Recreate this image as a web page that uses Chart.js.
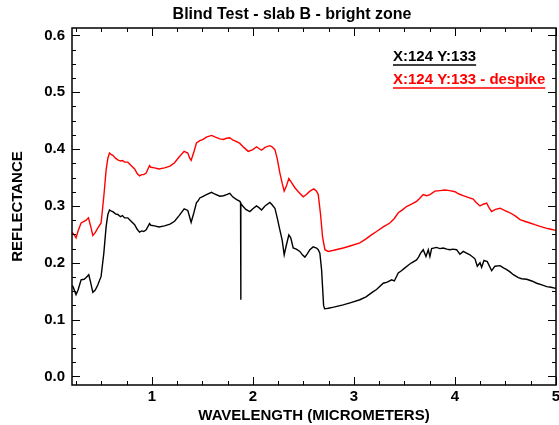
<!DOCTYPE html>
<html><head><meta charset="utf-8">
<script src="https://cdn.jsdelivr.net/npm/chart.js@4/dist/chart.umd.min.js"></script>
<style>html,body{margin:0;padding:0;background:#fff;}</style>
</head><body>
<canvas id="c" width="559" height="425"></canvas>
<script>
const chartTitle = 'Blind Test - slab B - bright zone';
const xAxisTitle = 'WAVELENGTH (MICROMETERS)';
const yAxisTitle = 'REFLECTANCE';
const seriesNames = ['X:124 Y:133', 'X:124 Y:133 - despike'];
const seriesColors = ['#000000', '#ff0000'];
const xTickValues = [1, 2, 3, 4, 5];
const yTickValues = [0, 0.1, 0.2, 0.3, 0.4, 0.5, 0.6];

const blackWave = [0.21,0.22,0.25,0.27,0.30,0.33,0.35,0.376,0.395,0.416,0.44,0.465,0.498,0.525,0.548,0.565,0.581,0.60,0.614,0.64,0.663,0.69,0.71,0.73,0.762,0.79,0.83,0.855,0.878,0.90,0.92,0.944,0.977,0.99,1.027,1.07,1.126,1.18,1.225,1.27,1.32,1.356,1.375,1.389,1.416,1.442,1.455,1.475,1.508,1.54,1.591,1.62,1.673,1.71,1.74,1.772,1.80,1.84,1.871,1.878,1.880,1.882,1.90,1.93,1.970,2.00,2.036,2.06,2.086,2.12,2.168,2.19,2.218,2.24,2.267,2.29,2.31,2.33,2.356,2.375,2.399,2.43,2.465,2.49,2.515,2.54,2.564,2.597,2.63,2.647,2.663,2.68,2.70,2.71,2.746,2.80,2.894,2.97,3.059,3.12,3.18,3.224,
  3.29,3.33,3.373,3.40,3.439,3.47,3.505,3.54,3.571,3.60,3.62,3.64,3.66,3.686,3.713,3.736,3.752,3.769,3.818,3.85,3.884,3.92,3.95,3.98,4.016,4.049,4.082,4.115,4.148,4.198,4.221,4.248,4.264,4.287,4.32,4.363,4.396,4.446,4.48,4.512,4.545,4.578,4.627,4.66,4.71,4.76,4.809,4.86,4.908,4.95,5.0];
const blackRefl = [0.160,0.158,0.144,0.152,0.170,0.171,0.174,0.179,0.165,0.148,0.152,0.161,0.176,0.217,0.264,0.285,0.293,0.291,0.290,0.286,0.285,0.281,0.283,0.279,0.279,0.274,0.267,0.259,0.254,0.256,0.255,0.258,0.269,0.266,0.265,0.263,0.265,0.268,0.273,0.283,0.295,0.292,0.280,0.271,0.288,0.306,0.308,0.314,0.317,0.320,0.324,0.321,0.317,0.318,0.320,0.322,0.316,0.311,0.308,0.306,0.135,0.304,0.300,0.294,0.290,0.295,0.300,0.297,0.293,0.300,0.306,0.302,0.296,0.280,0.258,0.240,0.214,0.230,0.249,0.244,0.226,0.224,0.220,0.214,0.210,0.216,0.223,0.228,0.226,0.223,0.217,0.188,0.125,0.119,0.120,0.122,0.126,0.130,0.135,0.140,0.148,0.153,
  0.164,0.166,0.170,0.168,0.182,0.186,0.191,0.196,0.200,0.203,0.205,0.210,0.217,0.223,0.211,0.223,0.211,0.225,0.227,0.225,0.226,0.224,0.223,0.224,0.223,0.215,0.220,0.217,0.214,0.207,0.194,0.200,0.192,0.204,0.202,0.186,0.194,0.195,0.191,0.188,0.184,0.179,0.174,0.172,0.171,0.168,0.164,0.161,0.158,0.157,0.155];

const redWave = [0.21,0.22,0.25,0.27,0.30,0.33,0.35,0.373,0.395,0.416,0.44,0.465,0.498,0.525,0.548,0.565,0.581,0.60,0.614,0.64,0.663,0.69,0.71,0.73,0.762,0.79,0.83,0.855,0.878,0.90,0.92,0.944,0.977,0.99,1.027,1.07,1.126,1.18,1.225,1.27,1.32,1.356,1.375,1.389,1.416,1.442,1.475,1.508,1.54,1.591,1.63,1.673,1.706,1.74,1.772,1.80,1.84,1.871,1.91,1.954,2.00,2.036,2.06,2.086,2.12,2.168,2.19,2.218,2.24,2.267,2.29,2.31,2.33,2.356,2.38,2.416,2.45,2.498,2.53,2.564,2.604,2.63,2.647,2.67,2.69,2.713,2.746,2.80,2.894,2.97,3.059,3.12,3.18,3.224,3.29,3.356,3.40,3.439,3.48,3.521,3.57,3.62,3.65,3.686,3.72,3.752,3.802,3.851,3.90,3.95,4.00,4.04,4.082,4.13,4.181,4.21,4.248,4.28,4.314,4.34,4.363,4.40,4.446,4.49,4.545,4.60,4.644,4.69,4.743,4.79,4.842,4.90,4.95,5.0];
const redRefl = [0.253,0.252,0.244,0.256,0.270,0.273,0.275,0.279,0.264,0.248,0.253,0.261,0.270,0.317,0.364,0.384,0.393,0.390,0.389,0.384,0.381,0.379,0.380,0.377,0.377,0.372,0.365,0.357,0.353,0.355,0.355,0.358,0.371,0.368,0.367,0.365,0.367,0.370,0.376,0.386,0.396,0.393,0.384,0.380,0.395,0.411,0.415,0.417,0.421,0.424,0.421,0.418,0.417,0.419,0.420,0.416,0.413,0.410,0.403,0.396,0.399,0.404,0.401,0.398,0.403,0.406,0.404,0.399,0.384,0.358,0.340,0.326,0.334,0.348,0.342,0.332,0.325,0.316,0.320,0.326,0.330,0.326,0.320,0.285,0.245,0.223,0.220,0.222,0.226,0.230,0.235,0.242,0.250,0.255,0.263,0.270,0.278,0.288,0.293,0.299,0.303,0.308,0.313,0.320,0.318,0.320,0.326,0.327,0.328,0.327,0.325,0.321,0.318,0.315,0.312,0.306,0.300,0.303,0.305,0.296,0.290,0.294,0.296,0.292,0.288,0.282,0.276,0.273,0.270,0.267,0.264,0.261,0.259,0.257];

const FONT = "'Liberation Sans', Arial, Helvetica, sans-serif";

function toPoints(xs, ys) { return xs.map((v, i) => ({x: v, y: ys[i]})); }

const framePlugin = {
  id: 'frame',
  afterDraw(chart) {
    const {ctx, chartArea: a, scales: {x, y}} = chart;
    ctx.save();
    ctx.strokeStyle = '#000';
    ctx.lineWidth = 1;
    ctx.beginPath();
    for (let k = 1; k * 0.25 <= x.max + 1e-9; k++) {
      const v = k * 0.25;
      if (v < x.min) continue;
      const px = Math.round(x.getPixelForValue(v)) + 0.5;
      const len = (k % 4 === 0) ? 8 : 4;
      ctx.moveTo(px, a.bottom); ctx.lineTo(px, a.bottom - len);
      ctx.moveTo(px, a.top); ctx.lineTo(px, a.top + len);
    }
    for (let k = 0; k * 0.025 <= y.max + 1e-9; k++) {
      const v = k * 0.025;
      const py = Math.round(y.getPixelForValue(v)) + 0.5;
      const len = (k % 4 === 0) ? 8 : 4;
      ctx.moveTo(a.left, py); ctx.lineTo(a.left + len, py);
      ctx.moveTo(a.right, py); ctx.lineTo(a.right - len, py);
    }
    ctx.stroke();
    ctx.lineWidth = 1.5;
    ctx.strokeRect(a.left, a.top, a.right - a.left, a.bottom - a.top);

    // title
    ctx.fillStyle = '#000';
    ctx.font = 'bold 16px ' + FONT;
    ctx.textAlign = 'center';
    ctx.textBaseline = 'middle';
    ctx.fillText(chartTitle, 292, 15);

    // legend
    ctx.font = 'bold 15px ' + FONT;
    ctx.textAlign = 'left';
    const lx = 393;
    const rows = [57, 80];
    seriesNames.forEach((name, i) => {
      ctx.fillStyle = seriesColors[i];
      ctx.strokeStyle = seriesColors[i];
      ctx.fillText(name, lx, rows[i]);
      const w = ctx.measureText(name).width;
      ctx.lineWidth = 1.5;
      ctx.beginPath();
      ctx.moveTo(lx, rows[i] + 8);
      ctx.lineTo(lx + w, rows[i] + 8);
      ctx.stroke();
    });
    ctx.restore();
  }
};

new Chart(document.getElementById('c'), {
  type: 'scatter',
  data: {
    datasets: [
      { label: seriesNames[1], data: toPoints(redWave, redRefl), showLine: true, borderColor: seriesColors[1], borderWidth: 1.4, pointRadius: 0, tension: 0 },
      { label: seriesNames[0], data: toPoints(blackWave, blackRefl), showLine: true, borderColor: seriesColors[0], borderWidth: 1.4, pointRadius: 0, tension: 0 }
    ]
  },
  options: {
    responsive: false,
    animation: false,
    devicePixelRatio: 1,
    layout: { padding: { top: 28, right: 3, left: 0, bottom: 0 } },
    plugins: { legend: { display: false }, title: { display: false }, tooltip: { enabled: false } },
    scales: {
      x: {
        type: 'linear', min: 0.21, max: 5,
        afterBuildTicks: s => { s.ticks = xTickValues.map(v => ({ value: v })); },
        afterFit: s => { s.height = 40; s.paddingLeft = 0; s.paddingRight = 0; },
        grid: { display: false, drawTicks: false },
        border: { display: false },
        ticks: { color: '#000', font: { family: FONT, size: 15, weight: 'bold' }, padding: 3, maxRotation: 0, callback: v => String(v) },
        title: { display: true, text: xAxisTitle, color: '#000', font: { family: FONT, size: 15, weight: 'bold' }, padding: { top: 5, bottom: 0 } }
      },
      y: {
        type: 'linear', min: -0.015, max: 0.613,
        afterBuildTicks: s => { s.ticks = yTickValues.map(v => ({ value: v })); },
        afterFit: s => { s.width = 72; s.paddingTop = 0; s.paddingBottom = 0; },
        grid: { display: false, drawTicks: false },
        border: { display: false },
        ticks: { color: '#000', font: { family: FONT, size: 15, weight: 'bold' }, padding: 7, callback: v => Number(v).toFixed(1) },
        title: { display: true, text: yAxisTitle, color: '#000', font: { family: FONT, size: 15, weight: 'bold' }, padding: { top: 9, bottom: 0 } }
      }
    }
  },
  plugins: [framePlugin]
});
</script>
</body></html>
